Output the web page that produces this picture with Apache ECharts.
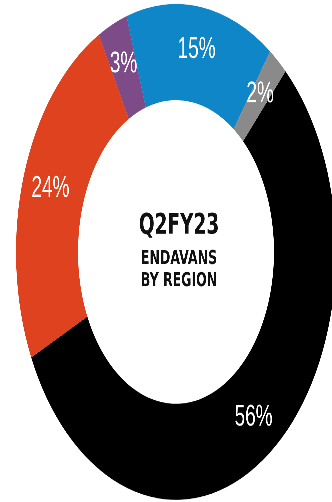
<!DOCTYPE html>
<html>
<head>
<meta charset="utf-8">
<script src="https://cdn.jsdelivr.net/npm/echarts@6/dist/echarts.min.js"></script>
<style>
html,body{margin:0;padding:0;background:#fff;overflow:hidden;width:332px;height:502px;}
#wrap{width:332px;height:502px;overflow:hidden;position:relative;}
#chart{width:332px;height:324px;transform:scaleY(1.5494);transform-origin:0 0;position:absolute;left:0;top:0;}
</style>
</head>
<body>
<div id="wrap"><div id="chart"></div></div>
<script>
// Data
const regions = ['Black', 'Orange', 'Purple', 'Blue', 'Gray'];
const shares = [56, 24, 3, 15, 2];
const colors = ['#000000', '#DE421E', '#7D4C88', '#0F86C8', '#8A8A8A'];
const titleLines = ['Q2FY23', 'ENDAVANS', 'BY REGION'];

const chart = echarts.init(document.getElementById('chart'), null, {renderer: 'canvas', devicePixelRatio: 3});
chart.setOption({
  animation: false,
  backgroundColor: '#ffffff',
  graphic: [
    {type: 'text', left: null, x: 179, y: 146, style: {text: titleLines[0], fill: '#111', font: 'bold 18.5px "DejaVu Sans"', textAlign: 'center', textVerticalAlign: 'middle'}},
    {type: 'text', x: 179, y: 167, style: {text: titleLines[1], fill: '#111', font: 'bold 12.5px "DejaVu Sans"', textAlign: 'center', textVerticalAlign: 'middle'}},
    {type: 'text', x: 179, y: 181.5, style: {text: titleLines[2], fill: '#111', font: 'bold 12.5px "DejaVu Sans"', textAlign: 'center', textVerticalAlign: 'middle'}}
  ],
  series: [{
    type: 'pie',
    center: [176, 162.6],
    radius: [98, 160],
    startAngle: 46.8,
    clockwise: true,
    avoidLabelOverlap: false,
    silent: true,
    label: {
      show: true,
      position: 'inside',
      formatter: '{c}%',
      color: '#ffffff',
      fontFamily: 'Liberation Sans',
      fontSize: 19
    },
    labelLine: {show: false},
    data: regions.map((r, i) => ({name: r, value: shares[i], itemStyle: {color: colors[i]}}))
  }]
});
</script>
</body>
</html>
